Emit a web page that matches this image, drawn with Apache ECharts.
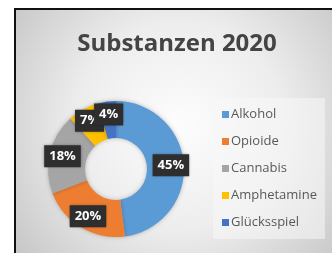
<!DOCTYPE html>
<html><head><meta charset="utf-8">
<script src="https://cdn.jsdelivr.net/npm/echarts@6/dist/echarts.min.js"></script>
<style>html,body{margin:0;padding:0;background:#fff}#c{width:332px;height:253px}</style>
</head><body><div id="c"></div>
<script>
const categories = ['Alkohol','Opioide','Cannabis','Amphetamine','Glücksspiel'];
const values = [45, 20, 18, 7, 4];
const colors = ['#5B9BD5','#ED7D31','#A5A5A5','#FFC000','#4472C4'];
const chart = echarts.init(document.getElementById('c'));
const font = '"Open Sans", "Noto Sans", sans-serif';
const CX = 116, CY = 169, LR = 55;
chart.setOption({
  animation: false,
  color: colors,
  graphic: [
    {type:'rect', z:-10, shape:{x:15,y:9,width:330,height:260},
     style:{fill:{type:'radial',x:0.5,y:0.45,r:0.8,colorStops:[{offset:0,color:'#fdfdfd'},{offset:0.5,color:'#ededed'},{offset:1,color:'#c6c6c6'}]},
            stroke:'#111', lineWidth:2}}
  ],
  title: {text:'Substanzen 2020', left:172, top:27, textAlign:'center',
    textStyle:{fontFamily:font, fontSize:24, fontWeight:'bold', color:'#444'}},
  legend: {orient:'vertical', left:213, top:98, padding:[10,8,10,9], itemGap:14,
    itemWidth:7, itemHeight:7, icon:'rect', backgroundColor:'rgba(248,248,248,0.55)',
    textStyle:{fontFamily:font, fontSize:13, color:'#595959', padding:[0,0,0,-3]}, data:categories},
  series: [{
    type:'pie', center:[CX,CY], radius:[31,68], startAngle:90, clockwise:true,
    avoidLabelOverlap:false,
    itemStyle:{shadowBlur:4, shadowColor:'rgba(0,0,0,0.25)'},
    label:{show:true, position:'inside', formatter:'{c}%', fontFamily:font, fontSize:13, fontWeight:'bold',
      color:'#fff', backgroundColor:'#2e2e2e', padding:[5,5,4,5],
      shadowBlur:3, shadowColor:'rgba(0,0,0,0.4)'},
    labelLine:{show:false},
    labelLayout: function (p) {
      const r = p.labelRect;
      const cx = r.x + r.width/2, cy = r.y + r.height/2;
      const dx = cx - CX, dy = cy - CY, d = Math.sqrt(dx*dx+dy*dy) || 1;
      return {x: CX + dx*LR/d, y: CY + dy*LR/d, align:'center', verticalAlign:'middle', hideOverlap:false};
    },
    data: categories.map((n,i)=>({name:n, value:values[i]}))
  }]
});
</script></body></html>
